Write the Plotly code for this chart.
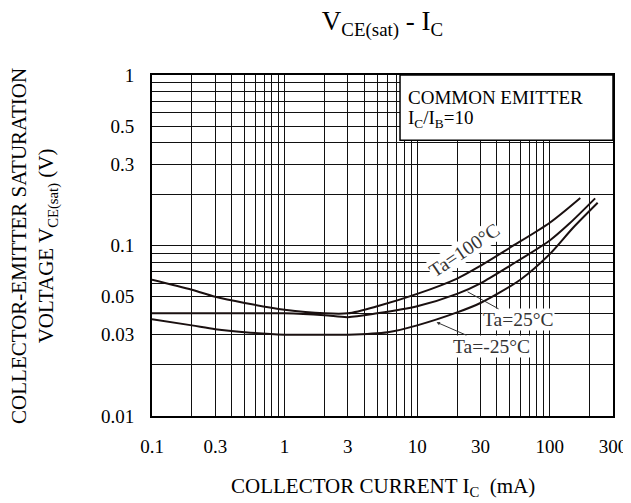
import plotly.graph_objects as go
import math

# ---- data ----
ic_100 = [0.1, 0.2, 0.3, 0.5, 1, 2, 3, 5, 10, 20, 30, 50, 100, 170]
vce_100 = [0.063, 0.055, 0.050, 0.046, 0.042, 0.040, 0.040, 0.044, 0.052, 0.064, 0.076, 0.097, 0.136, 0.19]

ic_25 = [0.1, 0.3, 1, 2, 3, 5, 10, 20, 30, 50, 100, 140, 220]
vce_25 = [0.040, 0.040, 0.040, 0.039, 0.038, 0.040, 0.044, 0.052, 0.060, 0.076, 0.107, 0.134, 0.189]

ic_m25 = [0.1, 0.2, 0.3, 0.5, 1, 2, 3, 6, 10, 20, 30, 60, 100, 150, 230]
vce_m25 = [0.037, 0.034, 0.0323, 0.031, 0.030, 0.030, 0.030, 0.031, 0.034, 0.0405, 0.046, 0.063, 0.089, 0.127, 0.178]

x_tick_vals = [0.1, 0.3, 1, 3, 10, 30, 100, 300]
x_tick_text = ["0.1", "0.3", "1", "3", "10", "30", "100", "300"]
y_tick_vals = [0.01, 0.03, 0.05, 0.1, 0.3, 0.5, 1]
y_tick_text = ["0.01", "0.03", "0.05", "0.1", "0.3", "0.5", "1"]

x_decades = [-1, 0, 1, 2]
y_decades = [-2, -1, 0]

FONT = "Liberation Serif"


def grid(decades, vmax):
    vals = []
    for e in decades:
        for d in range(1, 10):
            v = round(d * 10 ** e, 6)
            if v <= vmax * 1.0001:
                vals.append(v)
    return vals


def ticks(decades, vmax, tv, tt):
    g = grid(decades, vmax)
    lab = {round(v, 6): t for v, t in zip(tv, tt)}
    return g, [lab.get(round(v, 6), "") for v in g]


xg, xt = ticks(x_decades, 300, x_tick_vals, x_tick_text)
yg, yt = ticks(y_decades, 1, y_tick_vals, y_tick_text)

fig = go.Figure()
for xs, ys, name in [(ic_100, vce_100, "Ta=100°C"),
                     (ic_25, vce_25, "Ta=25°C"),
                     (ic_m25, vce_m25, "Ta=-25°C")]:
    fig.add_trace(go.Scatter(x=xs, y=ys, mode="lines", name=name,
                             line=dict(color="#1a1010", width=2, shape="spline", smoothing=0.8)))

axis_common = dict(type="log", showgrid=True, gridcolor="#111", gridwidth=1,
                   showline=True, linecolor="black", linewidth=2, mirror=True,
                   ticks="", zeroline=False, automargin=False, ticklabeloverflow="allow",
                   tickfont=dict(family=FONT, size=19, color="black"))

fig.update_xaxes(range=[math.log10(0.1), math.log10(300)], tickvals=xg, ticktext=xt,
                 ticklabelstandoff=12, **axis_common)
fig.update_yaxes(range=[math.log10(0.01), math.log10(1)], tickvals=yg, ticktext=yt,
                 ticklabelstandoff=12, **axis_common)

# legend box (condition)
fig.add_shape(type="rect", xref="paper", yref="paper", x0=0.538, x1=1.0, y0=0.809, y1=1.0,
              fillcolor="white", line=dict(color="black", width=1.5), layer="above")

ann = []
ann.append(dict(xref="paper", yref="paper", x=0.550, y=0.935, xanchor="left", yanchor="middle",
                text="COMMON EMITTER", showarrow=False,
                font=dict(family=FONT, size=19, color="black")))
ann.append(dict(xref="paper", yref="paper", x=0.552, y=0.872, xanchor="left", yanchor="middle",
                text="I<sub>C</sub>/I<sub>B</sub>=10", showarrow=False,
                font=dict(family=FONT, size=19, color="black")))

# curve labels
ann.append(dict(x=math.log10(22.5), y=math.log10(0.094), text="Ta=100°C", showarrow=False,
                textangle=-34, bgcolor="white", borderpad=0,
                font=dict(family=FONT, size=19.5, color="#333")))
ann.append(dict(x=math.log10(24), y=math.log10(0.0535), text="Ta=25°C", showarrow=True,
                arrowhead=0, arrowwidth=1, arrowcolor="#333", ax=51, ay=28,
                bgcolor="white", borderpad=0,
                font=dict(family=FONT, size=19.5, color="#333")))
ann.append(dict(x=math.log10(14), y=math.log10(0.0355), text="Ta=-25°C", showarrow=True,
                arrowhead=2, arrowsize=0.7, arrowwidth=1, arrowcolor="#333", ax=55, ay=24,
                bgcolor="white", borderpad=0,
                font=dict(family=FONT, size=19.5, color="#333")))

# axis titles
ann.append(dict(xref="paper", yref="paper", x=0.5, y=-0.208, xanchor="center", yanchor="middle",
                text="COLLECTOR CURRENT I<sub>C</sub>&nbsp;&nbsp;(mA)", showarrow=False,
                font=dict(family=FONT, size=21, color="black")))
ann.append(dict(xref="paper", yref="paper", x=-0.255, y=0.5, xanchor="center", yanchor="middle",
                text="COLLECTOR-EMITTER SATURATION<br>VOLTAGE V<sub>CE(sat)</sub> (V)",
                textangle=-90, showarrow=False,
                font=dict(family=FONT, size=21, color="black")))

# page body has an 8px margin: figure is sized so the plot area lands at the reference pixels
fig.update_layout(
    width=623, height=495,
    margin=dict(l=144, r=18, t=67, b=87, autoexpand=False),
    paper_bgcolor="white", plot_bgcolor="white",
    showlegend=False,
    title=dict(text="V<sub>CE(sat)</sub> - I<sub>C</sub>", x=0.5, xref="paper", xanchor="center",
               y=1 - 13 / 495, yanchor="middle", yref="container",
               font=dict(family=FONT, size=27, color="black")),
    annotations=ann,
)

fig.write_html("out.html")
